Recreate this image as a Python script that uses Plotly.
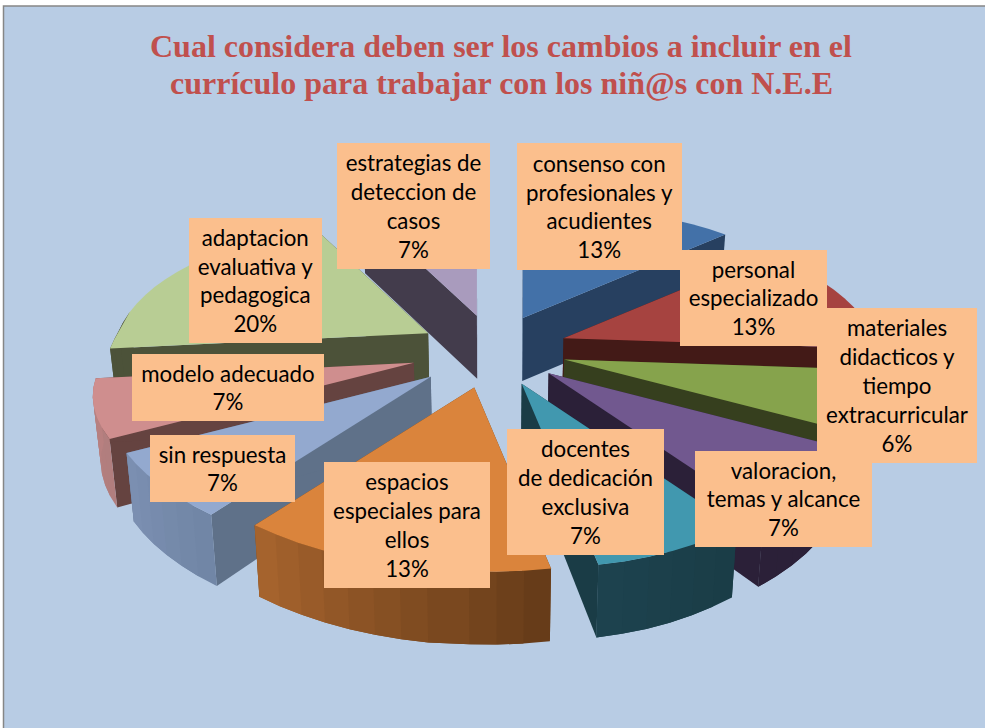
import math
import plotly.graph_objects as go

# ---- data ----
categories = ["consenso con<br>profesionales y<br>acudientes", "personal<br>especializado",
              "materiales<br>didacticos y<br>tiempo<br>extracurricular", "valoracion,<br>temas y alcance",
              "docentes<br>de dedicación<br>exclusiva", "espacios<br>especiales para<br>ellos",
              "sin respuesta", "modelo adecuado", "adaptacion<br>evaluativa y<br>pedagogica",
              "estrategias de<br>deteccion de<br>casos"]
values = [13, 13, 6, 7, 7, 13, 7, 7, 20, 7]
top_colors = ["#4371A8", "#A64340", "#86A34C", "#71588F", "#4198AF", "#DA843C", "#93A9CF", "#CF8E8E", "#B8CD94", "#A99BBD"]
cut_colors = ["#274060", "#431A17", "#363F1E", "#2B2038", "#1A3C46", "#6B4019", "#5F7189", "#654340", "#4C5239", "#433C4C"]
wall_start = ["#274060", "#431A17", "#363F1E", "#2B2038", "#1A3C46", "#643A18", "#7085A5", "#B07E7E", "#4C5239", "#433C4C"]
wall_end = ["#274060", "#431A17", "#363F1E", "#2B2038", "#1D434F", "#A8652E", "#7C90B2", "#B98080", "#4C5239", "#433C4C"]
draw_order = [9, 0, 8, 1, 7, 2, 6, 3, 4, 5]
title_lines = ["Cual considera deben ser los cambios a incluir en el",
               "currículo para trabajar con los niñ@s con N.E.E"]
# label boxes: left, right, top, bottom in page pixels
label_boxes = [(517, 682, 143, 270), (680, 827, 250, 346), (817, 977, 308, 463), (695, 872, 451, 547),
               (507, 664, 429, 555), (324, 490, 462, 588), (150, 295, 435, 502), (132, 324, 354, 421),
               (189, 322, 218, 343), (337, 490, 143, 269)]

# ---- projection of the exploded 3-D pie ----
CX, CY = 493, 350
R, RY, KX, KY, SHEAR, TWIST = 310, 141, 0.17, 0.23, 16, 22
DEPTH, STEP = 63, 4.0


def apex(mid):
    u, v = math.sin(mid), -math.cos(mid)
    ex = 82 if (u < 0 and v > 0) else (75 if u > 0 else 74)
    ey = 38 if v > 0 else 35
    return CX + ex * u - 6 * max(v, 0), CY + ey * v


def rim(ax, ay, t):
    u, v = math.sin(t), -math.cos(t)
    x = ax + R * u / (1 - KX * v) - SHEAR * max(v, 0) * (1.9 if u < 0 else 1)
    y = ay + RY * v / (1 - KY * v) + TWIST * u * max(v, 0)
    return x, y


def drop(p, v):
    return p[0] - 0.02 * (p[0] - CX), p[1] + DEPTH + 10 * max(v, 0)


def mix(a, b, f):
    ca = [int(a[i:i + 2], 16) for i in (1, 3, 5)]
    cb = [int(b[i:i + 2], 16) for i in (1, 3, 5)]
    return "#%02X%02X%02X" % tuple(round(x + (y - x) * f) for x, y in zip(ca, cb))


fig = go.Figure()


def poly(pts, color):
    fig.add_trace(go.Scatter(x=[p[0] for p in pts] + [pts[0][0]], y=[p[1] for p in pts] + [pts[0][1]],
                             mode="lines", fill="toself", fillcolor=color,
                             line=dict(color=color, width=0), hoverinfo="skip", showlegend=False))


total = sum(values)
cum = [sum(values[:i]) for i in range(len(values))]
for i in draw_order:
    a0 = 2 * math.pi * cum[i] / total
    a1 = 2 * math.pi * (cum[i] + values[i]) / total
    ax, ay = apex((a0 + a1) / 2)
    n = max(2, int(math.degrees(a1 - a0) / STEP))
    ts = [a0 + (a1 - a0) * k / n for k in range(n + 1)]
    arc = [rim(ax, ay, t) for t in ts]
    low = [drop(p, -math.cos(t)) for p, t in zip(arc, ts)]
    ab = drop((ax, ay), 0)
    # radial cut faces
    poly([(ax, ay), arc[0], low[0], ab], cut_colors[i])
    poly([(ax, ay), arc[-1], low[-1], ab], cut_colors[i])
    # outer wall: only the part that faces the viewer; each band overlaps the next to hide seams
    for k in range(n):
        if -math.cos(ts[k]) < -0.05 and -math.cos(ts[k + 1]) < -0.05:
            continue
        e = min(k + 2, n)
        poly(arc[k:e + 1] + low[k:e + 1][::-1], mix(wall_start[i], wall_end[i], (k + 0.5) / n))
    # top face
    poly([(ax, ay)] + arc, top_colors[i])

# ---- text ----
annotations = [dict(text=line, x=501, y=y, xref="x", yref="y", xanchor="center", yanchor="middle", showarrow=False,
                    font=dict(family="Liberation Serif", size=32, color="#C0504D"))
               for line, y in zip(["<b>%s</b>" % t for t in title_lines], (46, 83))]
for name, val, (x0, x1, y0, y1) in zip(categories, values, label_boxes):
    annotations.append(dict(text="%s<br>%d%%" % (name, val), x=x0, y=y0, xref="x", yref="y",
                            xanchor="left", yanchor="top", width=x1 - x0, height=y1 - y0,
                            align="center", valign="middle", showarrow=False, bgcolor="#FBBF8D",
                            borderpad=0, borderwidth=0,
                            font=dict(family="Lato", size=22.3, color="#000000")))

fig.update_layout(
    width=985, height=728, autosize=False, margin=dict(l=0, r=0, t=0, b=0),
    paper_bgcolor="white", plot_bgcolor="rgba(0,0,0,0)", showlegend=False,
    xaxis=dict(range=[0, 985], visible=False, fixedrange=True),
    yaxis=dict(range=[728, 0], visible=False, fixedrange=True),
    annotations=annotations,
    shapes=[dict(type="rect", xref="x", yref="y", x0=3.5, x1=995, y0=6, y1=740, layer="below",
                 fillcolor="#B8CCE4", line=dict(color="#868686", width=1.5))],
)
fig.write_html("out.html", config={"displayModeBar": False},
               post_script="document.body.style.margin='0';")
